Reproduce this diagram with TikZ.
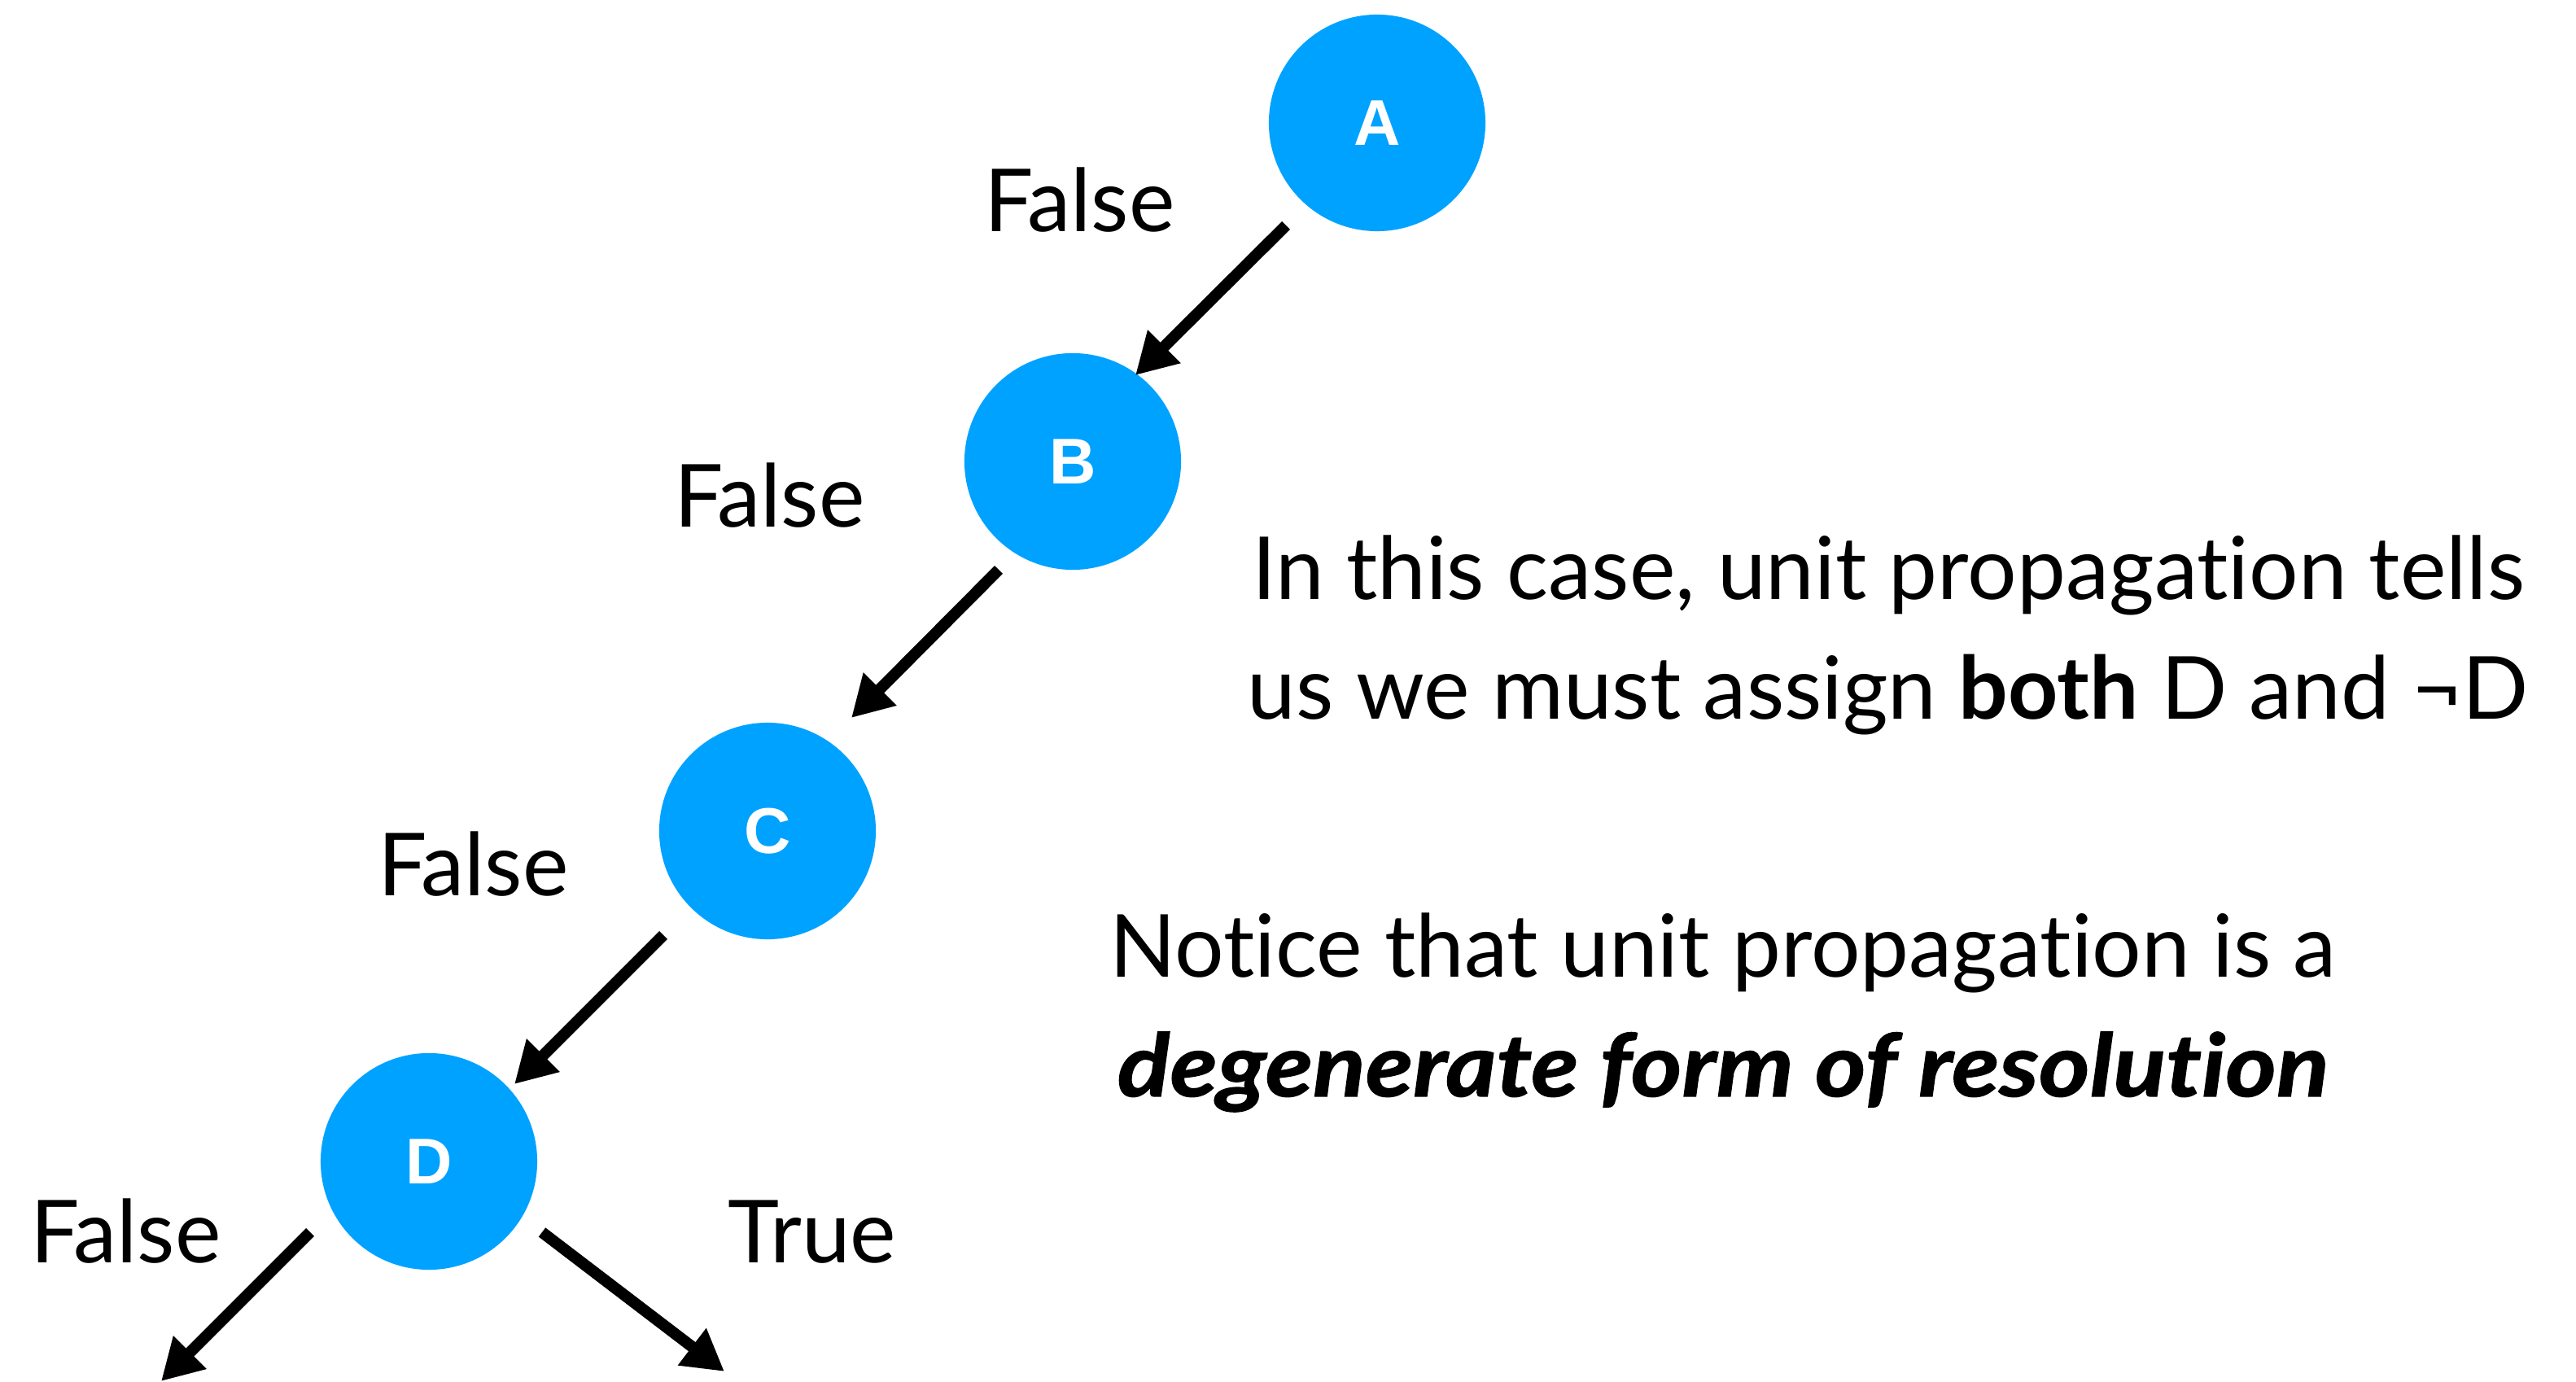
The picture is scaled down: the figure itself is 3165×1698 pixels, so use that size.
\documentclass[tikz,border=0pt]{standalone}
\usepackage{fontspec}
\setmainfont{Lato}[Ligatures=CommonOff]
\newfontfamily\letterfont{Liberation Sans}
\newfontfamily\heavyfont{Lato}[Ligatures=CommonOff,FakeStretch=1.12,FakeBold=1.2]
\usetikzlibrary{arrows.meta,calc}
\definecolor{nodeblue}{RGB}{0,162,255}
\begin{document}
\begin{tikzpicture}[x=0.01cm,y=-0.01cm,
  var/.style={circle,fill=nodeblue,minimum size=2.66cm,inner sep=0pt,
    text=white,font=\letterfont\bfseries\fontsize{22.6}{26}\selectfont},
  branch/.style={line width=0.14cm,-{Triangle[length=0.5cm,width=0.54cm]}},
  lbl/.style={anchor=base west,inner sep=0pt,font=\fontsize{30.4}{36}\selectfont},
  note/.style={anchor=base,inner sep=0pt,align=center,
    font=\fontsize{30.4}{41.8}\selectfont}]
\useasboundingbox (0,0) rectangle (3165,1698);

% decision nodes
\node[var] (A) at (1692,151) {A};
\node[var] (B) at (1318,567) {B};
\node[var] (C) at (943,1021) {C};
\node[var] (D) at (527,1427) {D};

% open ends of the last two branches
\coordinate (Dl) at (198,1697);
\coordinate (Dr) at (890,1685);

% branches
\draw[branch] ($(A)+(-112,126)$) -- ($(B)+(77,-106)$);
\draw[branch] ($(B)+(-91,133)$) -- ($(C)+(103,-139)$);
\draw[branch] ($(C)+(-128,128)$) -- ($(D)+(105,-95)$);
\draw[branch] ($(D)+(-146,87)$) -- (Dl);
\draw[branch] ($(D)+(139,87)$) -- (Dr);

% branch labels
\node[lbl] (fA) at (1209,285) {False};
\node[lbl] (fB) at (828,648) {False};
\node[lbl] (fC) at (464,1101) {False};
\node[lbl] (fD) at (37,1552) {False};
\node[lbl] (tD) at (894,1551) {True};

% remarks (the base anchor sits on the last line)
\node[note] (n1) at (2320,884) {In this case, unit propagation tells\\
  us we must assign \textbf{both} D and ¬D};
\node[note] (n2) at (2117,1347) {Notice that unit propagation is a\\
  {\heavyfont\bfseries\itshape degenerate form of resolution}};
\end{tikzpicture}
\end{document}
